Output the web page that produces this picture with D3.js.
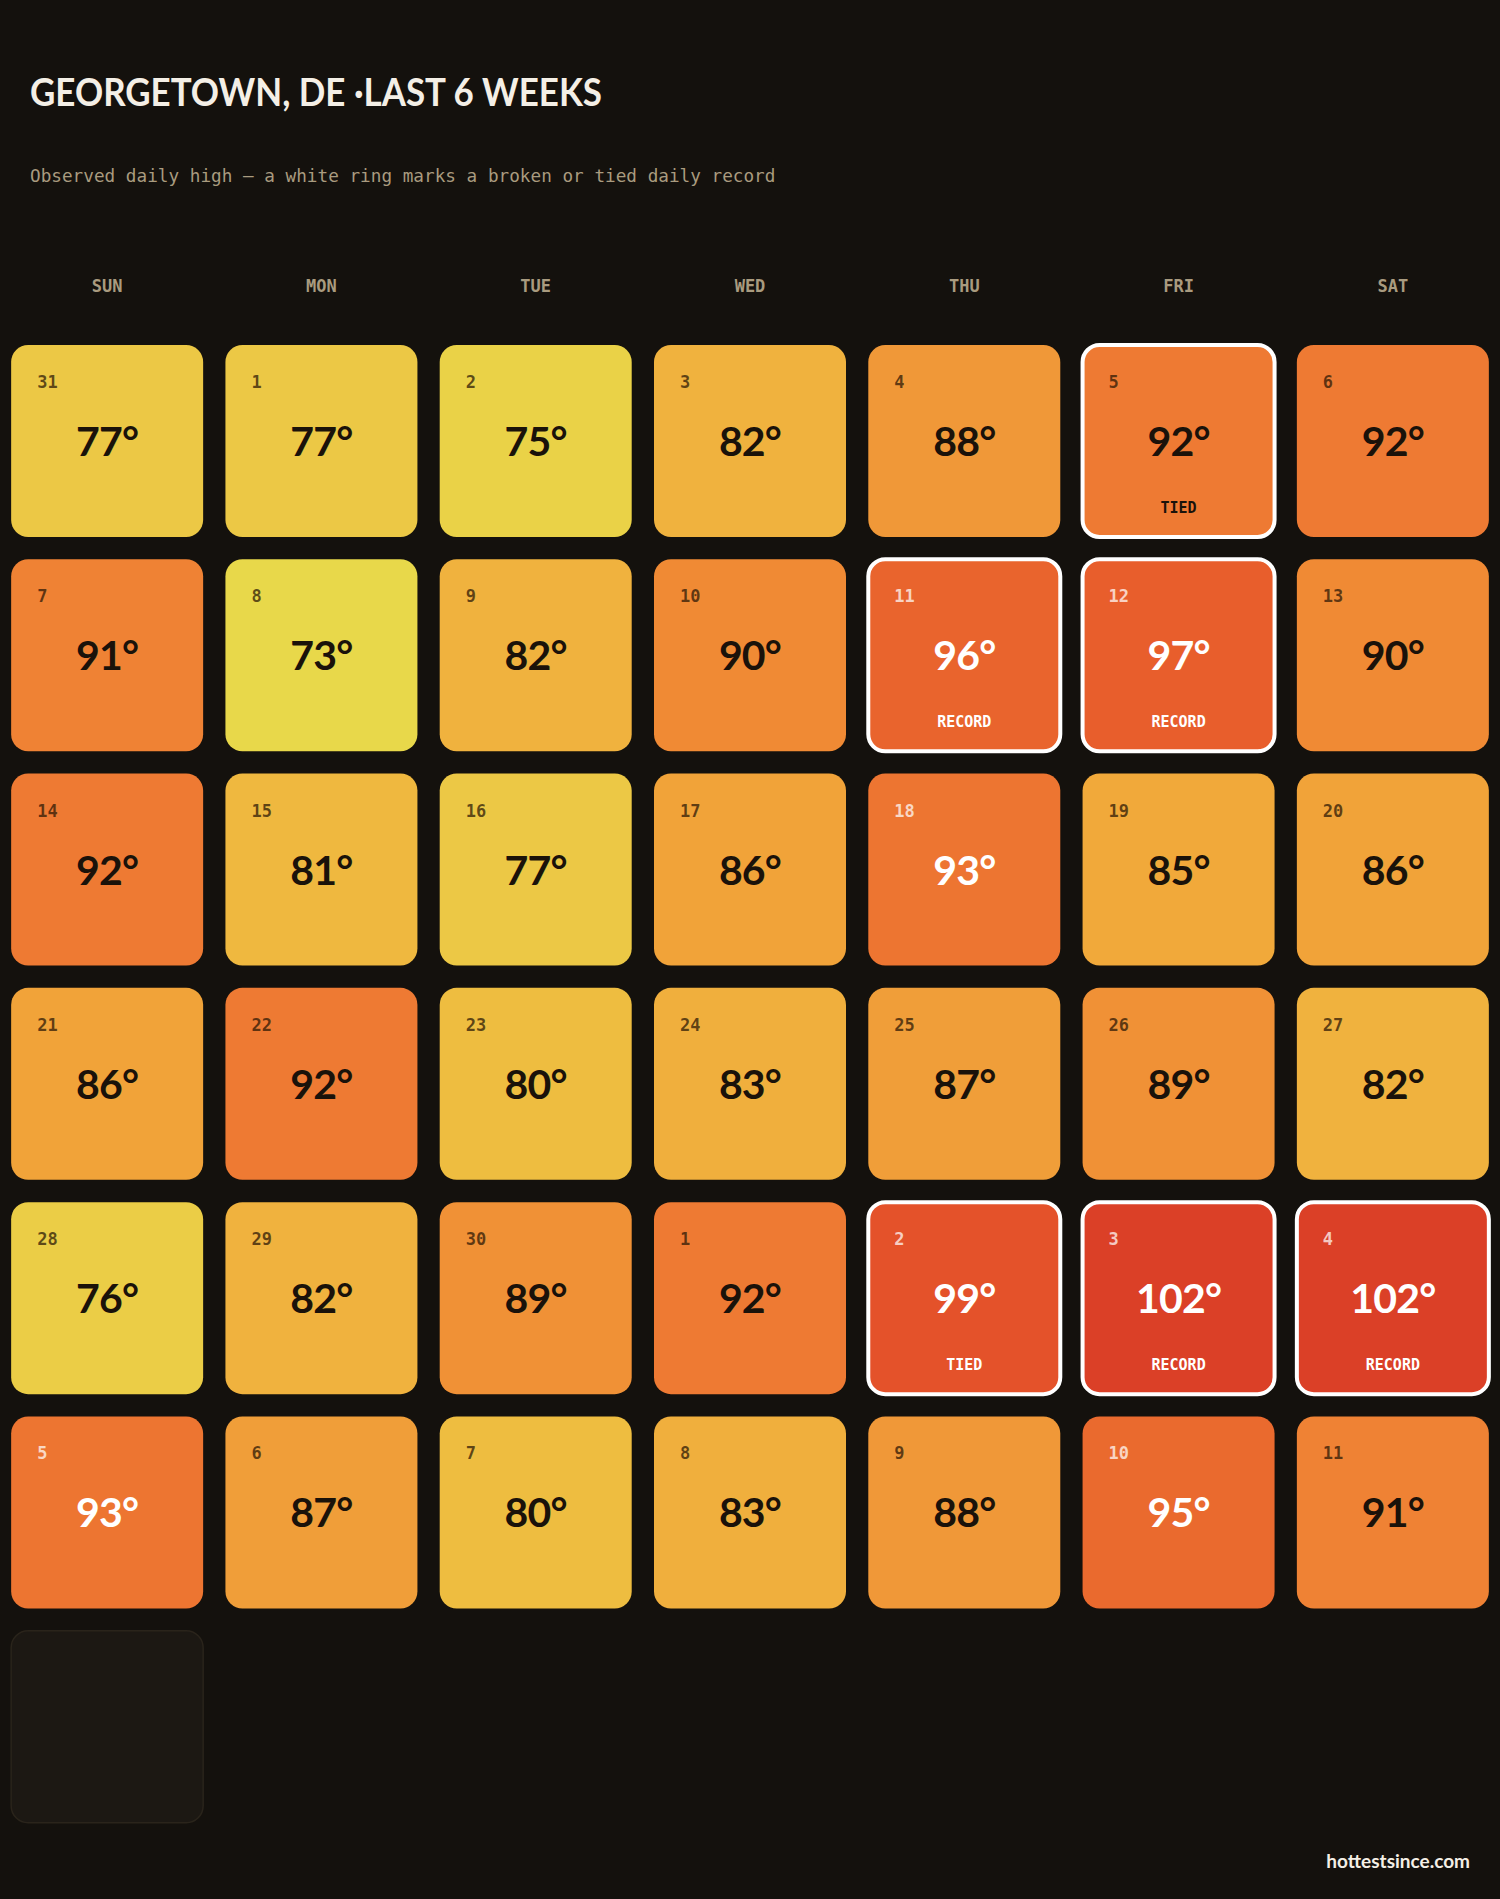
<!DOCTYPE html>
<html><head><meta charset="utf-8">
<script src="https://cdn.jsdelivr.net/npm/d3@7"></script>
<style>
html,body{margin:0;padding:0;background:#14110d;}
svg{display:block;}
</style></head>
<body>
<script>
// ---- data ----
const weekdays = ["SUN","MON","TUE","WED","THU","FRI","SAT"];
const dayNums = [31,1,2,3,4,5,6, 7,8,9,10,11,12,13, 14,15,16,17,18,19,20, 21,22,23,24,25,26,27, 28,29,30,1,2,3,4, 5,6,7,8,9,10,11, 12];
const highs = [77,77,75,82,88,92,92, 91,73,82,90,96,97,90, 92,81,77,86,93,85,86, 86,92,80,83,87,89,82, 76,82,89,92,99,102,102, 93,87,80,83,88,95,91, null];
const records = [null,null,null,null,null,"TIED",null, null,null,null,null,"RECORD","RECORD",null, null,null,null,null,null,null,null, null,null,null,null,null,null,null, null,null,null,null,"TIED","RECORD","RECORD", null,null,null,null,null,null,null, null];
const colorTemps = [73,75,77,80,82,85,88,90,92,95,97,99,102];
const colorStops = ["#e8d84a","#ead247","#ecc845","#eebd40","#f0b23e","#f1a93a","#f09838","#f08a34","#ee7a33","#ea6a2e","#e85e2c","#e4522a","#db4027"];
const title = "GEORGETOWN, DE \u00B7LAST 6 WEEKS";
const subtitle = "Observed daily high \u2014 a white ring marks a broken or tied daily record";
const footer = "hottestsince.com";

const W = 1500, H = 1899;
const svg = d3.select("body").append("svg").attr("width", W).attr("height", H);
svg.append("rect").attr("width", W).attr("height", H).attr("fill", "#14110d");

const color = d3.scaleLinear().domain(colorTemps).range(colorStops).clamp(true);

const x = d3.scaleBand().domain(d3.range(7)).range([0, W]).paddingInner(0.104).paddingOuter(0.052);
const nWeeks = Math.ceil(dayNums.length / 7);
const step = x.step();
const y = d3.scaleBand().domain(d3.range(nWeeks)).range([345 - x(0), 345 - x(0) + step * nWeeks]).paddingInner(0.104).paddingOuter(0.052);
const bw = x.bandwidth();

svg.append("text").attr("x", 30).attr("y", 106)
  .attr("fill", "#f4efe6").attr("font-family", "Lato, sans-serif").attr("font-weight", 700)
  .attr("font-size", 38).attr("textLength", 572).attr("lengthAdjust", "spacingAndGlyphs").text(title);

svg.append("text").attr("x", 30).attr("y", 182)
  .attr("fill", "#a99b7f").attr("font-family", "'DejaVu Sans Mono', monospace")
  .attr("font-size", 17.7).text(subtitle);

svg.selectAll("text.wd").data(weekdays).join("text").attr("class", "wd")
  .attr("x", (d, i) => x(i) + bw / 2).attr("y", 292)
  .attr("text-anchor", "middle").attr("fill", "#a99b7f")
  .attr("font-family", "'DejaVu Sans Mono', monospace").attr("font-weight", 700)
  .attr("font-size", 17).text(d => d);

const days = dayNums.map((d, i) => ({ day: d, high: highs[i], rec: records[i], col: i % 7, row: Math.floor(i / 7) }));

const g = svg.selectAll("g.cell").data(days).join("g").attr("class", "cell")
  .attr("transform", d => `translate(${x(d.col)},${y(d.row)})`);

g.append("rect").attr("width", bw).attr("height", bw).attr("rx", 17).attr("ry", 17)
  .attr("fill", d => d.high == null ? "#1c1813" : color(d.high))
  .attr("stroke", d => d.high == null ? "#2a241b" : (d.rec ? "#ffffff" : "none"))
  .attr("stroke-width", d => d.high == null ? 1.5 : 4);

const hot = d => d.high >= 93;
const dd = g.filter(d => d.high != null);

dd.append("text").attr("x", 26).attr("y", 43)
  .attr("fill", d => hot(d) ? "rgba(255,255,255,0.72)" : "rgba(40,22,5,0.72)")
  .attr("font-family", "'DejaVu Sans Mono', monospace").attr("font-weight", 700)
  .attr("font-size", 17).text(d => d.day);

dd.append("text").attr("x", bw / 2).attr("y", 111).attr("text-anchor", "middle")
  .attr("fill", d => hot(d) ? "#ffffff" : "#1a120a")
  .attr("font-family", "Lato, sans-serif").attr("font-weight", 700)
  .attr("font-size", 41).attr("letter-spacing", -0.8).text(d => d.high + "\u00B0");

dd.filter(d => d.rec).append("text").attr("x", bw / 2).attr("y", 168).attr("text-anchor", "middle")
  .attr("fill", d => hot(d) ? "#ffffff" : "#1a120a")
  .attr("font-family", "'DejaVu Sans Mono', monospace").attr("font-weight", 700)
  .attr("font-size", 15).text(d => d.rec);

svg.append("text").attr("x", 1470).attr("y", 1868).attr("text-anchor", "end")
  .attr("fill", "#f4efe6").attr("font-family", "Lato, sans-serif").attr("font-weight", 700)
  .attr("font-size", 19).text(footer);
</script>
</body></html>
